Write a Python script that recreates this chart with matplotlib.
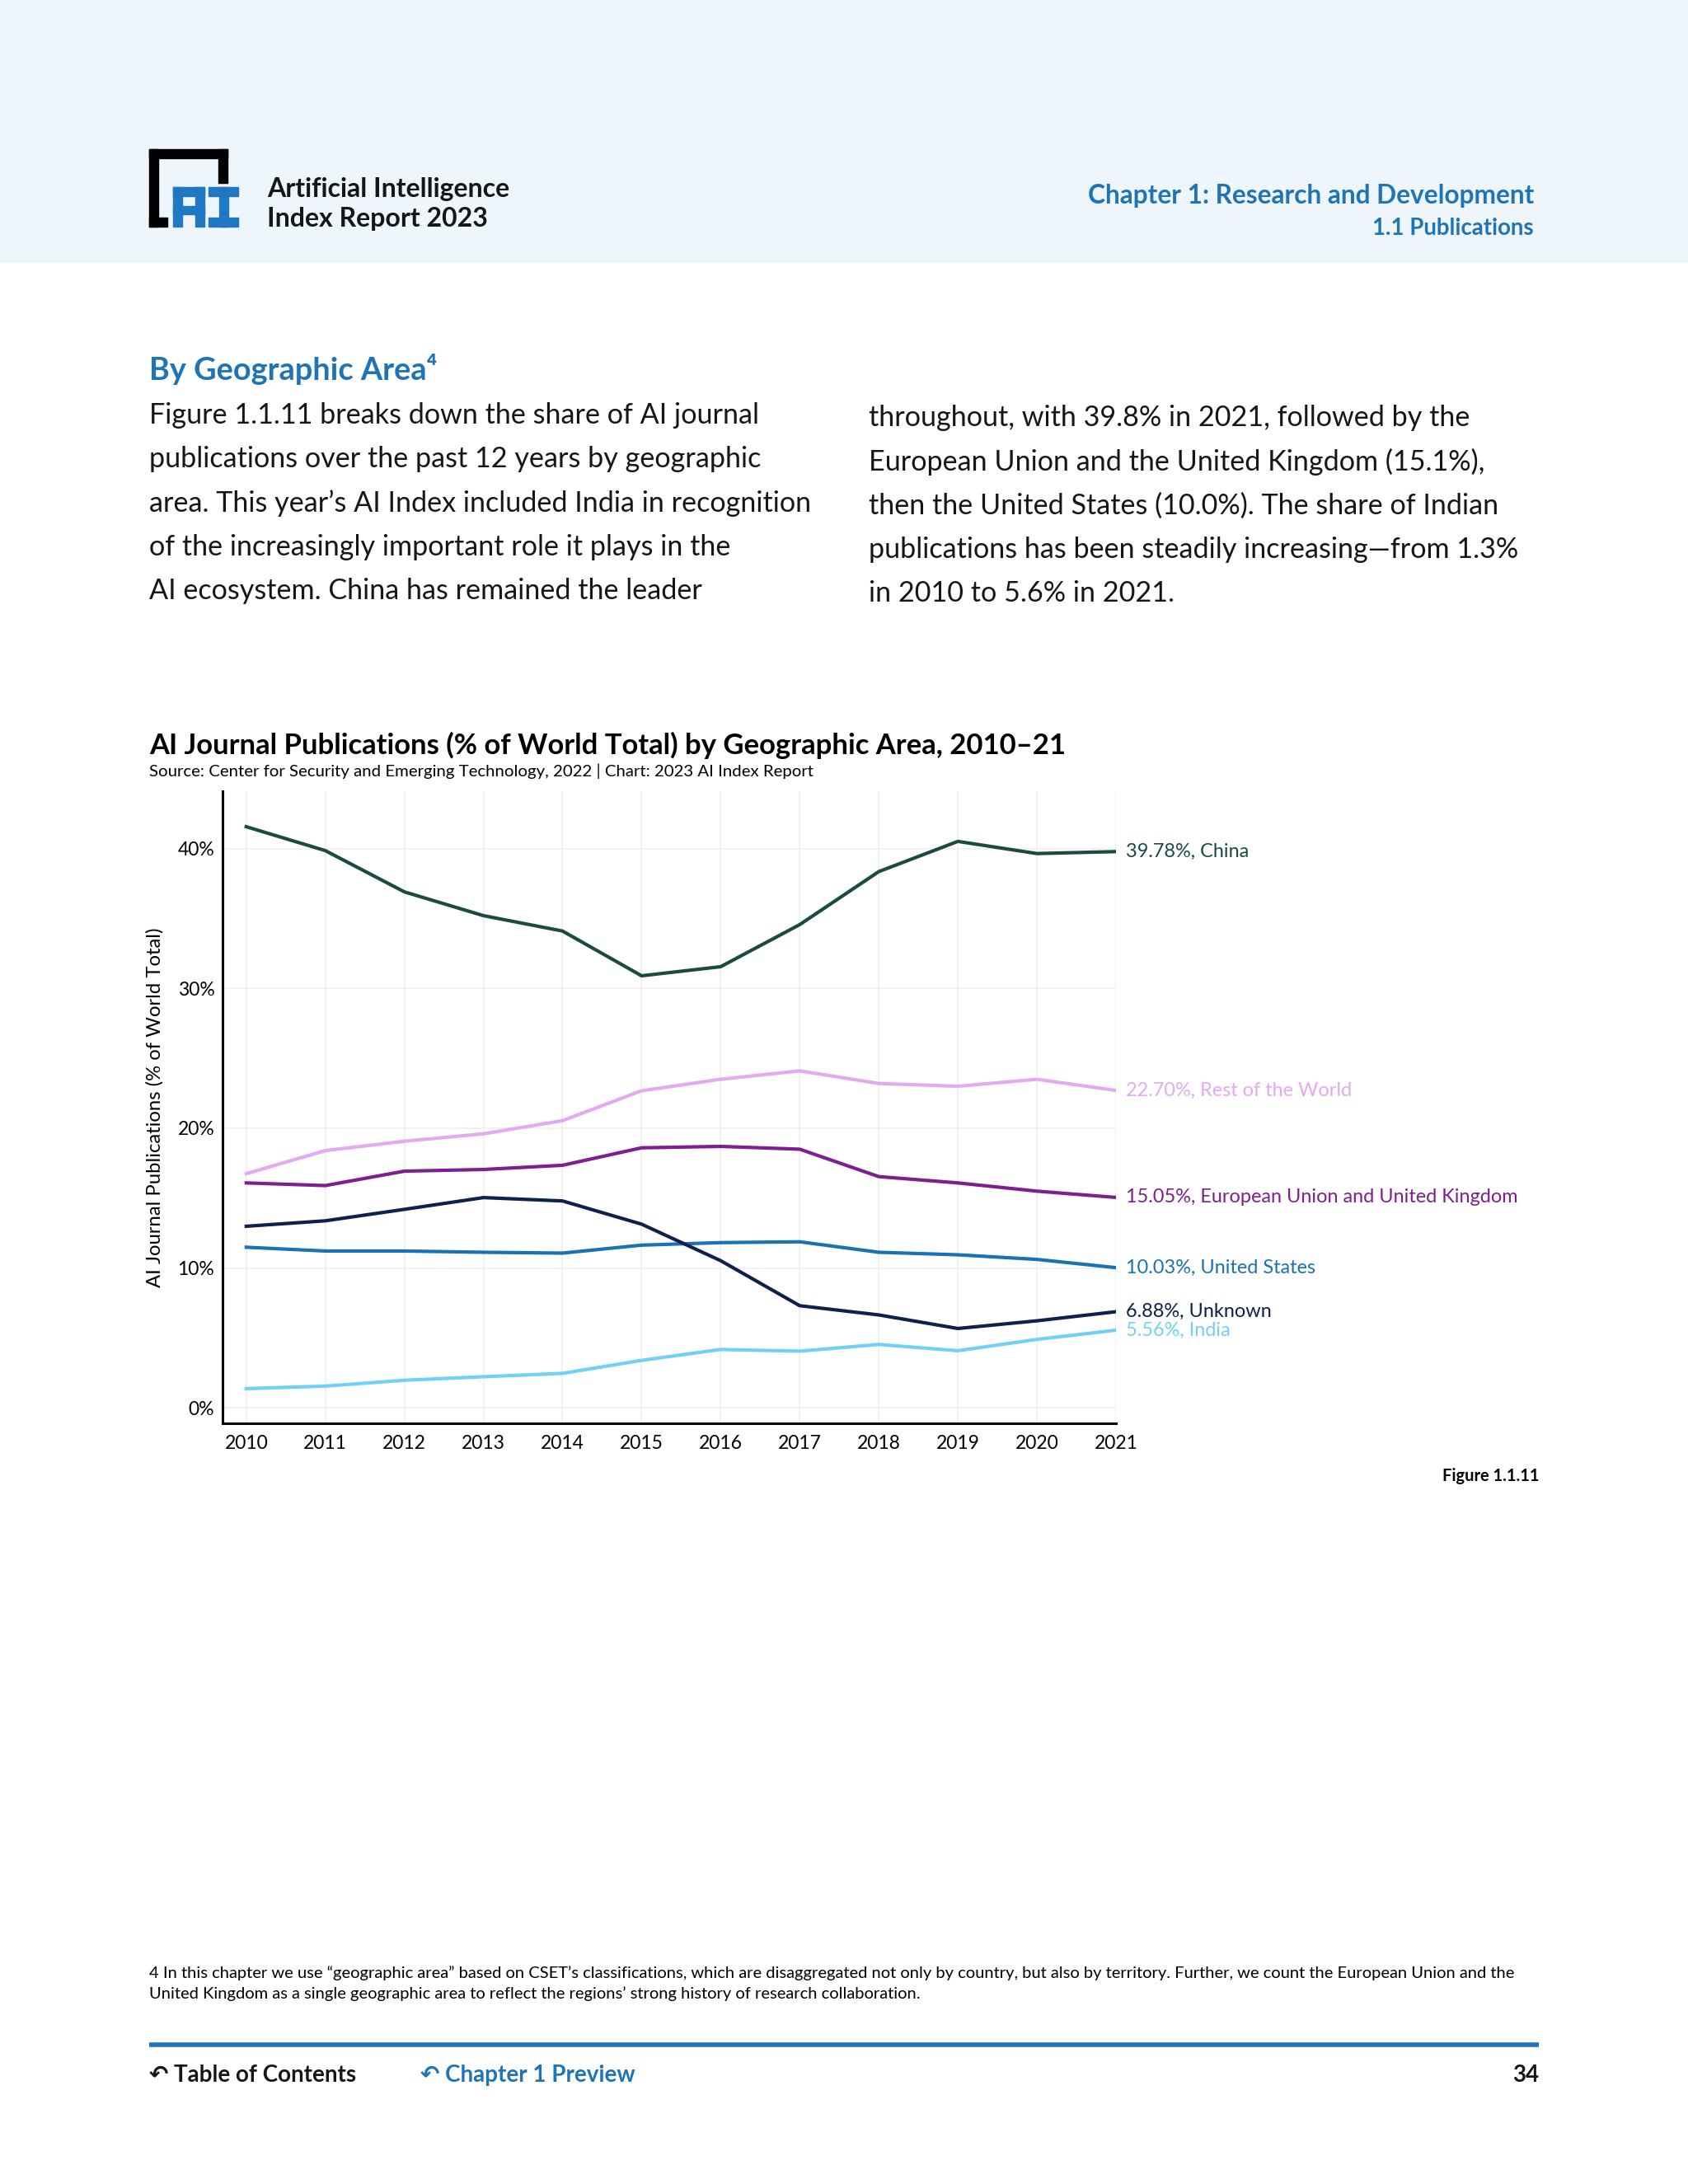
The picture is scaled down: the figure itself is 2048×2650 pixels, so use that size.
import matplotlib
matplotlib.use("Agg")
import matplotlib.pyplot as plt
from matplotlib.patches import Rectangle

plt.rcParams["font.family"] = ["Lato", "DejaVu Sans"]

# --- données (% du total mondial) ---
years = [2010, 2011, 2012, 2013, 2014, 2015, 2016, 2017, 2018, 2019, 2020, 2021]
china = [41.56, 39.85, 36.90, 35.20, 34.10, 30.90, 31.55, 34.56, 38.35, 40.51, 39.64, 39.78]
rest_world = [16.75, 18.40, 19.07, 19.60, 20.54, 22.68, 23.50, 24.10, 23.20, 23.00, 23.50, 22.70]
eu_uk = [16.09, 15.90, 16.93, 17.05, 17.35, 18.60, 18.70, 18.50, 16.54, 16.09, 15.50, 15.05]
unknown = [12.99, 13.38, 14.20, 15.04, 14.80, 13.14, 10.53, 7.31, 6.65, 5.68, 6.23, 6.88]
united_states = [11.49, 11.22, 11.22, 11.13, 11.07, 11.64, 11.82, 11.88, 11.13, 10.95, 10.62, 10.03]
india = [1.38, 1.56, 1.98, 2.23, 2.47, 3.40, 4.18, 4.06, 4.54, 4.09, 4.90, 5.56]

series = [
    ("China", china, "#1b4a45"),
    ("Rest of the World", rest_world, "#e5a8f3"),
    ("European Union and United Kingdom", eu_uk, "#7d1f8e"),
    ("United States", united_states, "#1a72b4"),
    ("Unknown", unknown, "#0f1f4e"),
    ("India", india, "#72d0f7"),
]
y_ticks = [0, 10, 20, 30, 40]
y_tick_labels = ["0%", "10%", "20%", "30%", "40%"]

W, H = 2048, 2650
BLUE = "#1f74b7"
TEXT = "#161616"

fig = plt.figure(figsize=(W / 100, H / 100), dpi=100)
fig.patch.set_facecolor("white")

# calque "page" en coordonnées pixel (y vers le bas)
page = fig.add_axes([0, 0, 1, 1])
page.set_xlim(0, W)
page.set_ylim(H, 0)
page.axis("off")

# bandeau d'en-tête
page.add_patch(Rectangle((0, 0), W, 318, color="#eef6fc", zorder=0))

# logo AI
for x, y, w, h in [(181, 181, 11, 94), (181, 181, 95, 11), (265, 181, 11, 41), (181, 264, 22, 11)]:
    page.add_patch(Rectangle((x, y), w, h, color="black", zorder=1))
for x, y, w, h in [(210, 227, 38, 11), (210, 227, 11, 48), (237, 227, 11, 48), (210, 250, 38, 10),
                   (253, 227, 36, 11), (253, 264, 36, 11), (266, 227, 11, 48)]:
    page.add_patch(Rectangle((x, y), w, h, color="#1f78c1", zorder=1))

page.text(324, 230, "Artificial Intelligence", fontsize=23, fontweight="bold", color=TEXT, va="center")
page.text(324, 266, "Index Report 2023", fontsize=23, fontweight="bold", color=TEXT, va="center")
page.text(1861, 238, "Chapter 1: Research and Development", fontsize=22.8, fontweight="bold",
          color=BLUE, ha="right", va="center")
page.text(1861, 277, "1.1 Publications", fontsize=19.9, fontweight="bold", color=BLUE, ha="right", va="center")

page.text(181, 448, "By Geographic Area\u2074", fontsize=27.3, fontweight="bold", color=BLUE, va="center")

left_lines = [
    "Figure 1.1.11 breaks down the share of AI journal",
    "publications over the past 12 years by geographic",
    "area. This year\u2019s AI Index included India in recognition",
    "of the increasingly important role it plays in the",
    "AI ecosystem. China has remained the leader",
]
right_lines = [
    "throughout, with 39.8% in 2021, followed by the",
    "European Union and the United Kingdom (15.1%),",
    "then the United States (10.0%). The share of Indian",
    "publications has been steadily increasing\u2014from 1.3%",
    "in 2010 to 5.6% in 2021.",
]
for i, line in enumerate(left_lines):
    page.text(181, 504 + i * 53.2, line, fontsize=24.6, color=TEXT, va="center")
for i, line in enumerate(right_lines):
    page.text(1054, 507 + i * 53.2, line, fontsize=24.6, color=TEXT, va="center")

page.text(181, 904, "AI Journal Publications (% of World Total) by Geographic Area, 2010\u201321",
          fontsize=24.9, fontweight="bold", color="black", va="center")
page.text(181, 936, "Source: Center for Security and Emerging Technology, 2022 | Chart: 2023 AI Index Report",
          fontsize=14.7, color="black", va="center")

page.text(1867, 1791, "Figure 1.1.11", fontsize=14.4, fontweight="bold", color="black", ha="right", va="center")

page.text(181, 2394, "4 In this chapter we use \u201cgeographic area\u201d based on CSET\u2019s classifications, which are "
          "disaggregated not only by country, but also by territory. Further, we count the European Union and the",
          fontsize=14.5, color="black", va="center")
page.text(181, 2419, "United Kingdom as a single geographic area to reflect the regions\u2019 strong history of "
          "research collaboration.", fontsize=14.5, color="black", va="center")

page.plot([181, 1867], [2481, 2481], color=BLUE, lw=4, solid_capstyle="butt")
page.text(181, 2518, "\u21b6 Table of Contents", fontsize=20, fontweight="bold", color=TEXT, va="center")
page.text(510, 2518, "\u21b6 Chapter 1 Preview", fontsize=20, fontweight="bold", color=BLUE, va="center")
page.text(1867, 2518, "34", fontsize=20, fontweight="bold", color=TEXT, ha="right", va="center")

# --- graphique ---
ax = fig.add_axes([270 / W, 1 - 1727 / H, (1354 - 270) / W, (1727 - 960) / H])
ax.set_facecolor("none")
for name, vals, color in series:
    ax.plot(years, vals, color=color, lw=3, solid_joinstyle="round", zorder=3)
    ax.annotate(f"{vals[-1]:.2f}%, {name}", xy=(years[-1], vals[-1]), xytext=(9, 0),
                textcoords="offset points", va="center", ha="left", fontsize=16.9,
                color=color, annotation_clip=False)

ax.set_xlim(2009.7, 2021)
ax.set_ylim(-1.1, 44.1)
ax.set_xticks(years)
ax.set_xticklabels([str(y) for y in years])
ax.set_yticks(y_ticks)
ax.set_yticklabels(y_tick_labels)
ax.tick_params(axis="y", length=0, labelsize=16.5, pad=7, colors="black")
ax.tick_params(axis="x", length=0, labelsize=16.5, pad=10, colors="black")
ax.grid(True, color="#efefef", lw=1.2, zorder=0)
ax.set_axisbelow(True)
for side in ["top", "right"]:
    ax.spines[side].set_visible(False)
for side in ["left", "bottom"]:
    ax.spines[side].set_linewidth(2.2)
    ax.spines[side].set_color("black")
ax.set_ylabel("AI Journal Publications (% of World Total)", fontsize=17.2, color="black", labelpad=12)

fig.savefig("out.png", dpi=100, facecolor="white")
